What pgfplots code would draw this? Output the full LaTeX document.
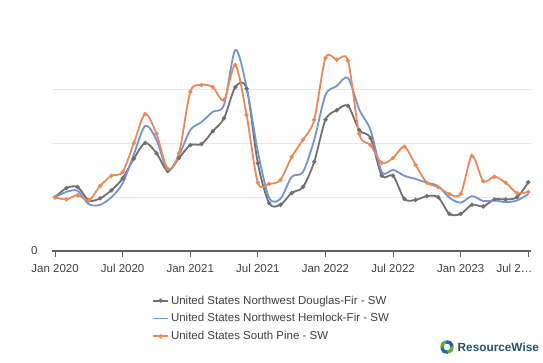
\documentclass[border=0pt]{standalone}
\usepackage{fontspec}
\setmainfont{Liberation Sans}
\usepackage{pgfplots}
\usepackage{pgfplotstable}
\pgfplotsset{compat=1.18}
\definecolor{cgray}{HTML}{6F6F6F}
\definecolor{cblue}{HTML}{7393D3}
\definecolor{corange}{HTML}{E98A59}
\definecolor{ctext}{HTML}{404040}
\definecolor{cgrid}{HTML}{E8E8E8}
\definecolor{caxis}{HTML}{606060}
\definecolor{logoblue}{HTML}{1E6B9A}
\definecolor{logogreen}{HTML}{5DAE3F}
\definecolor{logotext}{HTML}{245270}

\pgfplotstableread{
t g b o
0 1.00 1.00 1.00
1 1.17 1.10 0.96
2 1.19 1.12 1.04
3 0.94 0.87 0.94
4 0.98 0.86 1.21
5 1.13 1.00 1.40
6 1.35 1.26 1.47
7 1.72 1.80 2.01
8 2.01 2.33 2.55
9 1.82 2.07 2.18
10 1.49 1.50 1.53
11 1.73 1.78 1.82
12 1.97 2.25 2.96
13 1.99 2.40 3.09
14 2.23 2.59 3.05
15 2.47 2.72 2.81
16 3.05 3.74 3.46
17 3.02 3.05 2.53
18 1.63 1.85 1.27
19 0.89 0.99 1.25
20 0.86 0.97 1.32
21 1.08 1.38 1.75
22 1.19 1.47 2.07
23 1.66 2.07 2.44
24 2.44 2.90 3.59
25 2.62 3.07 3.56
26 2.70 3.22 3.54
27 2.25 2.63 2.18
28 2.10 2.25 1.97
29 1.40 1.47 1.64
30 1.40 1.51 1.73
31 0.97 1.40 1.94
32 0.95 1.34 1.60
33 1.02 1.27 1.27
34 1.00 1.21 1.19
35 0.69 0.99 1.06
36 0.69 0.90 1.06
37 0.86 1.02 1.77
38 0.83 0.93 1.30
39 0.96 0.94 1.38
40 0.96 0.91 1.27
41 1.00 0.94 1.08
42 1.28 1.06 1.10
}\data

\begin{document}
\begin{tikzpicture}[x=1bp,y=1bp]
\path[use as bounding box] (0,0) rectangle (543,362);
\begin{axis}[
  at={(52bp,111bp)}, anchor=south west,
  scale only axis, width=479bp, height=215bp,
  xmin=-0.27, xmax=42.24, ymin=0, ymax=4,
  axis x line=bottom, axis y line=left, axis line style={-},
  x axis line style={draw=caxis, line width=1.3bp},
  y axis line style={draw=none},
  xtick={0,6,...,42},
  xticklabels={Jan 2020,Jul 2020,Jan 2021,Jul 2021,Jan 2022,Jul 2022,Jan 2023,\makebox[0pt][r]{Jul 2…\hspace*{-4bp}}},
  ytick={0,1,2,3}, yticklabels={0,,,},
  ymajorgrids, major grid style={draw=cgrid, line width=1.2bp},
  tick align=outside, major tick length=6bp,
  xtick style={draw=caxis, line width=1bp},
  ytick style={draw=none},
  xticklabel style={font=\fontsize{11.5bp}{13bp}\selectfont, text=ctext, yshift=-4bp},
  yticklabel style={font=\fontsize{11.5bp}{13bp}\selectfont, text=ctext, xshift=-5bp},
  legend cell align=left,
  legend style={at={(0.2088,-0.198)}, anchor=north west, draw=none, fill=none,
    inner sep=0pt, font=\fontsize{11.5bp}{13bp}\selectfont, text=ctext,
    row sep=4bp},
  legend image code/.code={\draw[mark repeat=2,mark phase=2,#1] plot coordinates {(0bp,0bp) (7.5bp,0bp) (15bp,0bp)};},
]
\addplot[cgray, line width=1.8bp, smooth, mark=*, mark size=1.1bp] table[x=t,y=g]{\data};
\addlegendentry{United States Northwest Douglas-Fir - SW}
\addplot[cblue, line width=1.8bp, smooth] table[x=t,y=b]{\data};
\addlegendentry{United States Northwest Hemlock-Fir - SW}
\addplot[corange, line width=1.8bp, smooth, mark=*, mark size=1.1bp] table[x=t,y=o]{\data};
\addlegendentry{United States South Pine - SW}
\end{axis}
% logo
\draw[logogreen, line width=3.4bp] (447,15) ++(100:5.3) arc(100:190:5.3);
\draw[logoblue, line width=3.4bp] (447,15) ++(190:5.3) arc(190:280:5.3);
\draw[logogreen, line width=3.4bp] (447,15) ++(280:5.3) arc(280:370:5.3);
\draw[logoblue, line width=3.4bp] (447,15) ++(10:5.3) arc(10:100:5.3);
\node[anchor=west, text=logotext, font=\bfseries\fontsize{11.8bp}{12bp}\selectfont, inner sep=0pt] at (457.5,15) {ResourceWise};
\end{tikzpicture}
\end{document}
